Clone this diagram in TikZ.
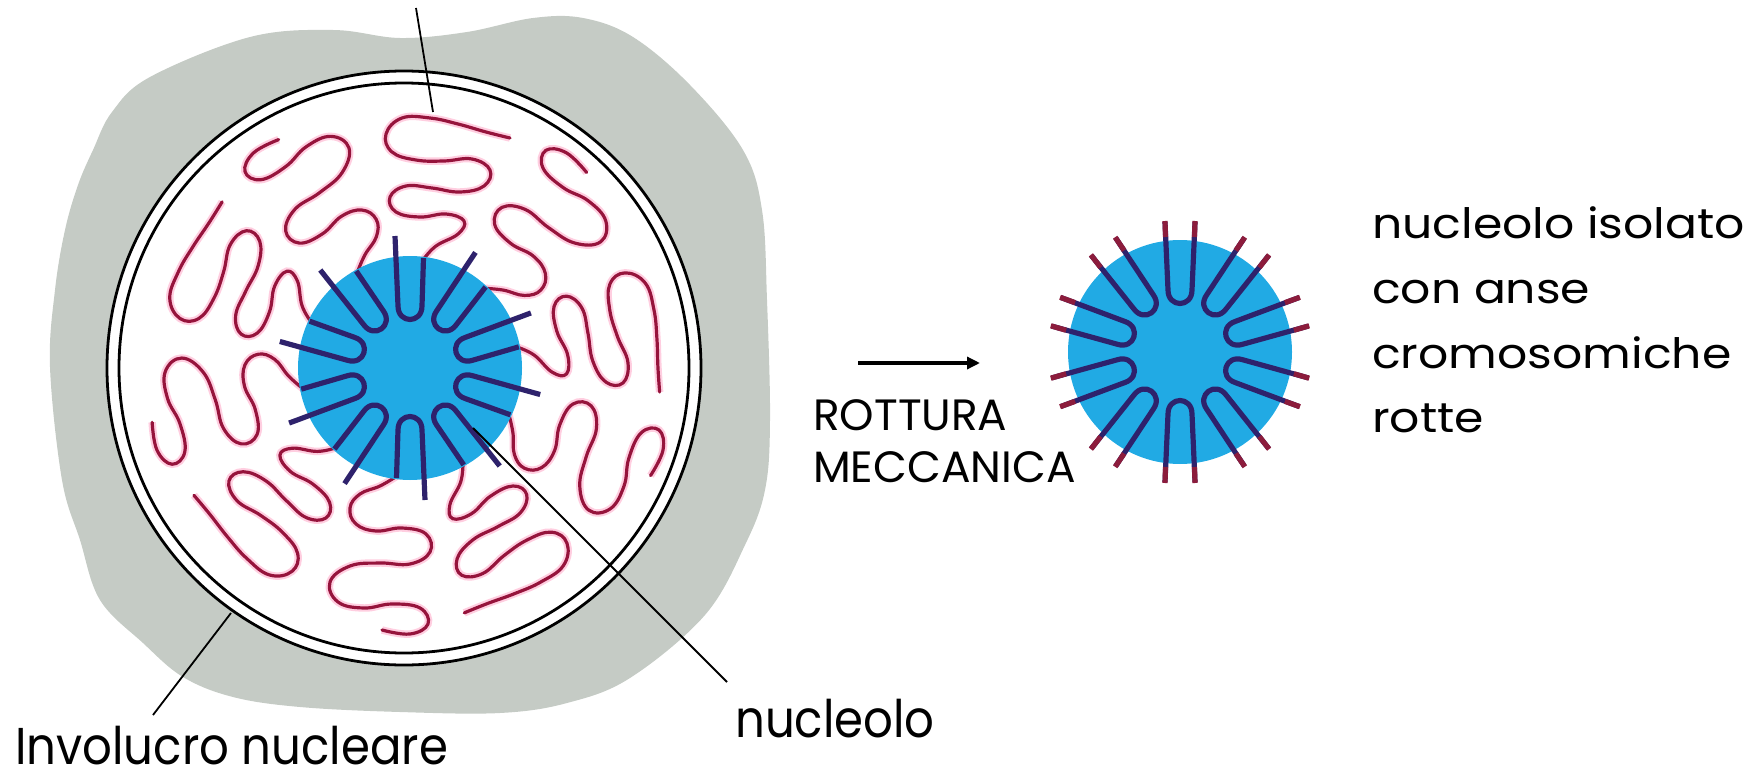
\documentclass[tikz,border=0pt]{standalone}
\usepackage{fontspec}
\setmainfont{Poppins}
\newfontfamily\handfont[FakeStretch=0.9]{Poppins}
\newfontfamily\wideface[FakeStretch=1.13]{Poppins}
\usetikzlibrary{arrows.meta}
\definecolor{cytogray}{RGB}{197,203,197}
\definecolor{nucblue}{RGB}{33,170,228}
\definecolor{loopnavy}{RGB}{46,34,108}
\definecolor{chromred}{RGB}{150,20,60}
\definecolor{stubred}{RGB}{140,28,60}
\definecolor{halopink}{RGB}{255,206,224}
\tikzset{
  chrom/.style={draw=chromred, line width=3.2pt, line cap=round, line join=round,
    preaction={draw=halopink, line width=7.5pt}},
  strand/.style={draw=loopnavy, line width=5.2pt, line cap=butt, line join=round},
  stub/.style={draw=stubred, line width=5.2pt, line cap=butt},
  envline/.style={draw=black, line width=2.8pt},
  leader/.style={draw=black, line width=1.8pt},
  lbl/.style={inner sep=0pt, anchor=base west, text=black},
}
\begin{document}
\begin{tikzpicture}[x=1bp,y=-1bp]
\path[use as bounding box] (0,0) rectangle (1752,780);

% cytoplasm around the nucleus
\fill[cytogray] plot[smooth cycle, tension=0.6] coordinates {
  (93,150) (112,112) (150,77) (250,37) (333,30) (400,38) (467,32) (533,18)
  (583,18) (633,37) (690,85) (743,150) (762,210) (767,300) (770,420)
  (765,490) (745,545) (705,615) (630,678) (567,703) (500,713) (400,712)
  (300,707) (233,697) (183,677) (143,643) (100,600) (80,540) (62,480)
  (50,367) (55,290) (65,230) (78,185)};

% nuclear envelope (double membrane)
\fill[white] (404,368) circle[radius=297];
\draw[envline] (404,368) circle[radius=297];
\draw[envline] (404,368) circle[radius=285];

% chromatin arms leaving the nucleolus
\foreach \a [count=\i] in {90,126,...,414} {
  \begin{scope}[shift={(410,368)}, rotate=\a]
    \ifodd\i
      \draw[chrom] plot[smooth, tension=0.7] coordinates {
        (108,13) (122,26) (134,48) (147,54) (154,36) (151,10) (156,-14)
        (171,-20) (182,-4) (180,22) (176,50) (182,74) (198,80) (209,62)
        (207,34) (208,6) (216,-18) (234,-24) (250,-8) (250,20) (244,48)
        (236,76) (230,100)};
    \else
      \draw[chrom] plot[smooth, tension=0.7] coordinates {
        (108,13) (118,30) (126,50) (140,60) (156,54) (163,34) (160,8)
        (166,-16) (184,-20) (196,0) (195,30) (198,60) (214,80) (234,72)
        (240,46) (236,18) (240,-10) (256,-18) (266,0) (262,28)};
    \fi
  \end{scope}
}

% nucleolus inside the nucleus
\fill[nucblue] (410,368) circle[radius=112];
\foreach \a in {90,126,...,414} {
  \begin{scope}[shift={(410,368)}, rotate=\a]
    \draw[strand] (132,-15) -- (62,-12) .. controls (44,-12) and (44,12) .. (62,12) -- (110,13.5);
  \end{scope}
}

% isolated nucleolus with broken loops
\fill[nucblue] (1180,352) circle[radius=112];
\foreach \a in {90,126,...,414} {
  \begin{scope}[shift={(1180,352)}, rotate=\a]
    \draw[strand] (130,-15) -- (62,-12) .. controls (44,-12) and (44,12) .. (62,12) -- (130,15);
    \draw[stub] (115,-14.5) -- (131,-15);
    \draw[stub] (115,14.5) -- (131,15);
  \end{scope}
}

% arrow of the mechanical break
\coordinate (arrS) at (858,363);
\coordinate (arrE) at (980,363);
\draw[line width=3.5pt, -{Triangle[length=13pt,width=12pt]}] (arrS) -- (arrE);

% labels
\node[lbl, font=\fontsize{44}{50}\selectfont] (rott) at (813,430) {ROTTURA};
\node[lbl, font=\fontsize{44}{50}\selectfont] (mecc) at (813,482) {MECCANICA};

\node[lbl, font=\wideface\fontsize{42}{50}\selectfont] (iso1) at (1372,238) {nucleolo isolato};
\node[lbl, font=\wideface\fontsize{42}{50}\selectfont] (iso2) at (1372,303) {con anse};
\node[lbl, font=\wideface\fontsize{42}{50}\selectfont] (iso3) at (1372,368) {cromosomiche};
\node[lbl, font=\wideface\fontsize{42}{50}\selectfont] (iso4) at (1372,432) {rotte};

\node[lbl, font=\handfont\fontsize{52}{60}\selectfont] (nucl) at (735,737) {nucleolo};
\node[lbl, text depth=0pt, font=\handfont\fontsize{52}{60}\selectfont] (invol) at (15,764) {Involucro nucleare};

% leader lines
\coordinate (topEnd) at (416,8);
\coordinate (topTip) at (433,112);
\draw[leader] (topEnd) -- (topTip);
\coordinate (envFoot) at (153,715);
\coordinate (envTip) at (231,613);
\draw[leader] (envFoot) -- (envTip);
\coordinate (nuclFoot) at (727,682);
\coordinate (nuclTip) at (473,428);
\draw[leader] (nuclFoot) -- (nuclTip);
\end{tikzpicture}
\end{document}
